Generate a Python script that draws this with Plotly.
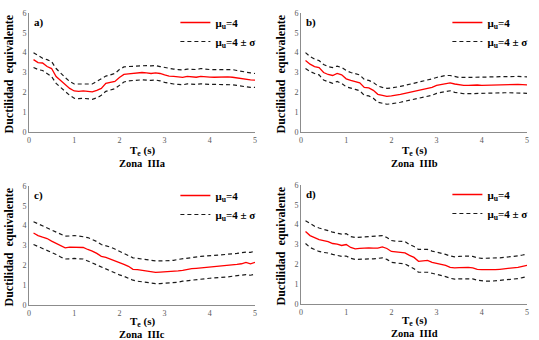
import plotly.graph_objects as go

T = [round(0.1 * i, 1) for i in range(1, 51)]

# Panel a) Zona IIIa
mean_a = [3.65, 3.5, 3.48, 3.3, 3.2, 2.8, 2.6, 2.4, 2.2, 2.07,
          2.05, 2.07, 2.05, 2.02, 2.1, 2.2, 2.45, 2.5, 2.55, 2.75,
          2.9, 2.93, 2.95, 2.97, 3.0, 2.98, 2.95, 2.98, 2.95, 2.88,
          2.82, 2.8, 2.78, 2.75, 2.8, 2.78, 2.76, 2.8, 2.77, 2.77,
          2.76, 2.77, 2.78, 2.78, 2.76, 2.72, 2.68, 2.65, 2.63, 2.62]
up_a = [4.0, 3.85, 3.72, 3.65, 3.55, 3.2, 2.95, 2.75, 2.55, 2.42,
        2.42, 2.42, 2.42, 2.42, 2.55, 2.7, 2.82, 2.88, 2.95, 3.15,
        3.28, 3.3, 3.32, 3.33, 3.35, 3.35, 3.33, 3.35, 3.3, 3.25,
        3.2, 3.17, 3.15, 3.13, 3.17, 3.15, 3.15, 3.2, 3.17, 3.15,
        3.15, 3.15, 3.17, 3.17, 3.15, 3.1, 3.05, 3.0, 2.98, 2.95]
lo_a = [3.25, 3.15, 3.1, 2.95, 2.8, 2.45, 2.25, 2.05, 1.85, 1.7,
        1.68, 1.7, 1.68, 1.65, 1.72, 1.85, 2.05, 2.12, 2.18, 2.35,
        2.52, 2.58, 2.6, 2.6, 2.63, 2.62, 2.6, 2.62, 2.58, 2.5,
        2.45, 2.42, 2.4, 2.38, 2.43, 2.4, 2.4, 2.43, 2.4, 2.4,
        2.4, 2.4, 2.4, 2.4, 2.38, 2.35, 2.3, 2.28, 2.25, 2.25]

# Panel b) Zona IIIb
mean_b = [3.6, 3.42, 3.3, 3.25, 3.0, 2.9, 2.85, 2.95, 2.88, 2.68,
          2.6, 2.55, 2.48, 2.25, 2.22, 2.1, 1.9, 1.85, 1.8, 1.82,
          1.85, 1.9, 1.95, 2.0, 2.05, 2.1, 2.12, 2.18, 2.25, 2.35,
          2.4, 2.45, 2.48, 2.42, 2.38, 2.35, 2.35, 2.37, 2.37, 2.35,
          2.36, 2.37, 2.38, 2.39, 2.4, 2.4, 2.4, 2.4, 2.39, 2.38]
up_b = [4.0, 3.8, 3.68, 3.6, 3.4, 3.3, 3.25, 3.32, 3.25, 3.1,
        3.0, 2.95, 2.88, 2.65, 2.6, 2.5, 2.32, 2.25, 2.2, 2.22,
        2.25, 2.3, 2.35, 2.4, 2.45, 2.5, 2.55, 2.6, 2.68, 2.75,
        2.8, 2.85, 2.85, 2.78, 2.75, 2.75, 2.75, 2.75, 2.75, 2.75,
        2.76, 2.77, 2.78, 2.79, 2.8, 2.8, 2.8, 2.8, 2.79, 2.78]
lo_b = [3.2, 3.05, 2.95, 2.88, 2.62, 2.52, 2.45, 2.55, 2.45, 2.28,
        2.2, 2.15, 2.08, 1.85, 1.82, 1.7, 1.5, 1.45, 1.4, 1.42,
        1.45, 1.5, 1.55, 1.6, 1.65, 1.7, 1.72, 1.77, 1.85, 1.95,
        2.0, 2.05, 2.08, 2.0, 1.95, 1.93, 1.93, 1.94, 1.95, 1.95,
        1.95, 1.96, 1.97, 1.97, 1.98, 1.98, 1.97, 1.97, 1.96, 1.95]

# Panel c) Zona IIIc
mean_c = [3.63, 3.5, 3.42, 3.35, 3.22, 3.12, 3.0, 2.88, 2.92, 2.92,
          2.9, 2.9, 2.8, 2.72, 2.6, 2.45, 2.4, 2.32, 2.2, 2.12,
          2.05, 1.95, 1.8, 1.78, 1.75, 1.7, 1.67, 1.65, 1.66, 1.67,
          1.67, 1.68, 1.72, 1.75, 1.8, 1.83, 1.85, 1.87, 1.88, 1.92,
          1.93, 1.95, 1.97, 2.0, 2.02, 2.05, 2.08, 2.15, 2.08, 2.15]
up_c = [4.2, 4.1, 4.0, 3.9, 3.8, 3.7, 3.6, 3.47, 3.48, 3.5,
        3.48, 3.45, 3.4, 3.3, 3.2, 3.05, 3.0, 2.92, 2.82, 2.72,
        2.62, 2.5, 2.38, 2.35, 2.32, 2.27, 2.23, 2.22, 2.22, 2.22,
        2.23, 2.25, 2.3, 2.33, 2.38, 2.42, 2.43, 2.45, 2.47, 2.5,
        2.5, 2.52, 2.53, 2.55, 2.58, 2.6, 2.63, 2.67, 2.65, 2.72]
lo_c = [3.05, 2.95, 2.85, 2.78, 2.65, 2.55, 2.42, 2.32, 2.33, 2.35,
        2.33, 2.32, 2.22, 2.12, 2.0, 1.88, 1.82, 1.72, 1.62, 1.52,
        1.45, 1.35, 1.25, 1.2, 1.17, 1.13, 1.1, 1.08, 1.08, 1.09,
        1.1, 1.12, 1.15, 1.2, 1.23, 1.25, 1.27, 1.3, 1.32, 1.35,
        1.37, 1.38, 1.4, 1.42, 1.45, 1.47, 1.5, 1.53, 1.5, 1.55]

# Panel d) Zona IIId
mean_d = [3.65, 3.45, 3.35, 3.25, 3.2, 3.15, 3.05, 3.02, 2.95, 3.0,
          2.85, 2.78, 2.8, 2.82, 2.83, 2.82, 2.82, 2.88, 2.8, 2.65,
          2.62, 2.6, 2.58, 2.45, 2.35, 2.15, 2.18, 2.2, 2.1, 2.05,
          1.98, 1.95, 1.85, 1.82, 1.83, 1.85, 1.85, 1.82, 1.75, 1.73,
          1.72, 1.72, 1.73, 1.75, 1.77, 1.8, 1.82, 1.85, 1.9, 1.95]
up_d = [4.2, 4.05, 3.92, 3.83, 3.78, 3.7, 3.62, 3.57, 3.52, 3.55,
        3.4, 3.35, 3.37, 3.38, 3.4, 3.4, 3.42, 3.45, 3.35, 3.2,
        3.17, 3.17, 3.15, 3.0, 2.9, 2.75, 2.75, 2.75, 2.67, 2.62,
        2.55, 2.5, 2.42, 2.38, 2.4, 2.42, 2.42, 2.4, 2.33, 2.3,
        2.3, 2.3, 2.32, 2.33, 2.35, 2.37, 2.4, 2.43, 2.47, 2.52]
lo_d = [3.05, 2.85, 2.75, 2.65, 2.6, 2.57, 2.5, 2.45, 2.4, 2.42,
        2.3, 2.25, 2.25, 2.27, 2.28, 2.28, 2.3, 2.33, 2.25, 2.1,
        2.07, 2.05, 2.02, 1.9, 1.78, 1.6, 1.6, 1.6, 1.55, 1.5,
        1.43, 1.38, 1.3, 1.25, 1.27, 1.28, 1.28, 1.27, 1.2, 1.17,
        1.15, 1.15, 1.17, 1.18, 1.2, 1.22, 1.25, 1.28, 1.33, 1.38]

panel_labels = ["a)", "b)", "c)", "d)"]
zone_labels = ["Zona  IIIa", "Zona  IIIb", "Zona  IIIc", "Zona  IIId"]
x_ticks = [0, 1, 2, 3, 4, 5]
y_ticks = [0, 1, 2, 3, 4, 5, 6]
legend_mean = "<b>μ<sub>u</sub>=4</b>"
legend_band = "<b>μ<sub>u</sub>=4 ± σ</b>"
y_title = "<b>Ductilidad  equivalente</b>"
x_title = "<b>T<sub>e</sub> (s)</b>"

W, H = 539, 340
# plot-area pixel boxes (left, right, top, bottom)
boxes = [(29, 255, 13, 132), (301, 527, 13, 132),
         (29, 255, 186, 305), (301, 527, 185, 304)]

FONT = "Times New Roman, Liberation Serif, serif"
fig = go.Figure()
series = [(mean_a, up_a, lo_a), (mean_b, up_b, lo_b),
          (mean_c, up_c, lo_c), (mean_d, up_d, lo_d)]

layout = dict(width=W, height=H,
              margin=dict(l=0, r=0, t=0, b=0, autoexpand=False),
              paper_bgcolor="white", plot_bgcolor="white", showlegend=True,
              font=dict(family=FONT, color="black"))
annotations = []
for i, ((m, u, l), (x0, x1, y0, y1)) in enumerate(zip(series, boxes)):
    n = "" if i == 0 else str(i + 1)
    xa, ya = "x" + n, "y" + n
    lg = "legend" if i == 0 else "legend" + str(i + 1)
    fig.add_trace(go.Scatter(x=T, y=m, mode="lines", name=legend_mean,
                             line=dict(color="#ff0000", width=1.3),
                             xaxis=xa, yaxis=ya, legend=lg))
    fig.add_trace(go.Scatter(x=T, y=u, mode="lines", name=legend_band,
                             line=dict(color="#1a1a1a", width=1.2, dash="4px,3px"),
                             xaxis=xa, yaxis=ya, legend=lg))
    fig.add_trace(go.Scatter(x=T, y=l, mode="lines", name=legend_band,
                             line=dict(color="#1a1a1a", width=1.2, dash="4px,3px"),
                             xaxis=xa, yaxis=ya, legend=lg, showlegend=False))
    dx = [x0 / W, x1 / W]
    dy = [1 - y1 / H, 1 - y0 / H]
    axcommon = dict(showgrid=False, zeroline=False, showline=True,
                    linecolor="#8c8c8c", linewidth=1, ticks="",
                    ticklabeloverflow="allow",
                    tickfont=dict(size=8, color="#595959", family=FONT))
    layout["xaxis" + n] = dict(domain=dx, range=[0, 5], tickvals=x_ticks,
                               anchor=ya, **axcommon)
    layout["yaxis" + n] = dict(domain=dy, range=[0, 6], tickvals=y_ticks,
                               anchor=xa, **axcommon)
    layout[lg] = dict(x=x1 / W + 0.01, xanchor="right", y=1 - (y0 - 5) / H,
                      yanchor="top", bgcolor="rgba(0,0,0,0)",
                      font=dict(size=11, family=FONT, color="black"),
                      itemwidth=30, tracegroupgap=0)
    annotations.append(dict(text="<b>" + panel_labels[i] + "</b>", x=(x0 + 3) / W,
                            y=1 - (y0 + 1) / H, xref="paper", yref="paper",
                            xanchor="left", yanchor="top", showarrow=False,
                            font=dict(size=11, family=FONT)))
    annotations.append(dict(text=y_title, x=(x0 - 21) / W, y=1 - ((y0 + y1) / 2 + 2) / H,
                            xref="paper", yref="paper", textangle=-90,
                            xanchor="center", yanchor="middle", showarrow=False,
                            font=dict(size=12, family=FONT)))
    cx = (x0 + x1) / 2 / W
    off1, off2 = (19, 31) if i < 2 else (17, 29)
    annotations.append(dict(text=x_title, x=cx, y=1 - (y1 + off1) / H,
                            xref="paper", yref="paper", xanchor="center",
                            yanchor="middle", showarrow=False,
                            font=dict(size=11, family=FONT)))
    annotations.append(dict(text="<b>" + zone_labels[i] + "</b>", x=cx,
                            y=1 - (y1 + off2) / H, xref="paper", yref="paper",
                            xanchor="center", yanchor="middle", showarrow=False,
                            font=dict(size=10.5, family=FONT)))
layout["annotations"] = annotations
fig.update_layout(**layout)
fig.write_html("out.html", config={"displayModeBar": False},
               post_script="document.body.style.margin='0';document.body.style.overflow='hidden';")
